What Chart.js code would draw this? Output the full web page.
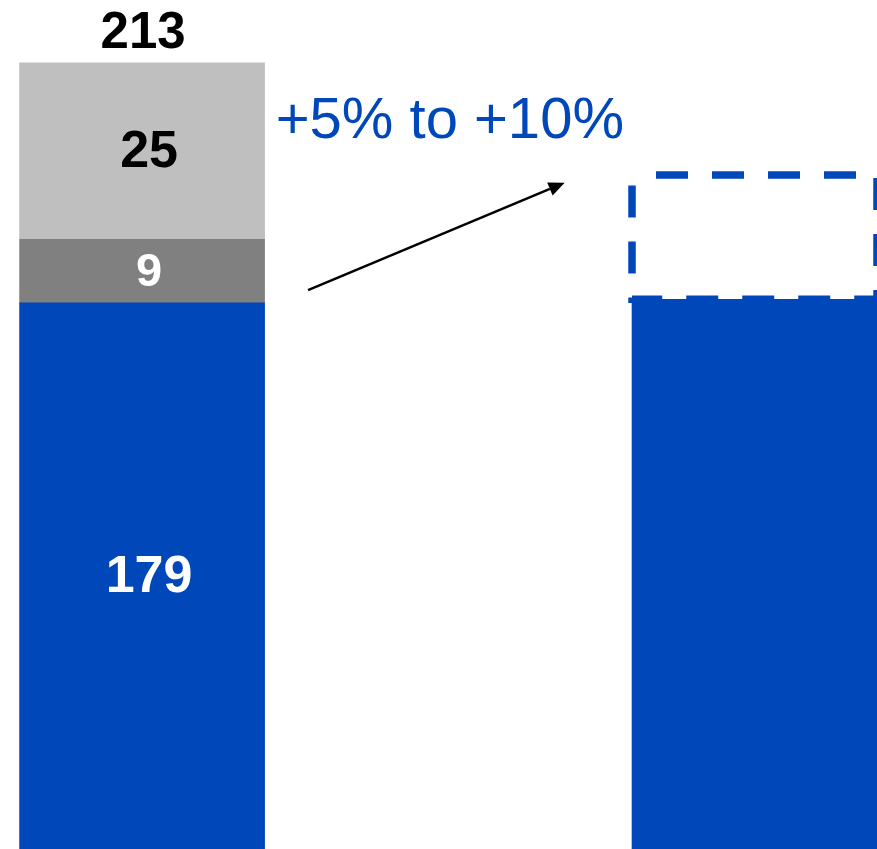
<!DOCTYPE HTML><html>
<head>
  <meta charset="utf-8">
  <script src="https://cdn.jsdelivr.net/npm/chart.js"></script>
  <title>Bridge chart</title>
  <style>
    html, body { margin: 0; padding: 0; background: #fff; }
    #wrap { width: 877px; height: 849px; }
  </style>
</head>
<body>
  <div id="wrap"><canvas id="bridgeChart" width="877" height="849"></canvas></div>

<script>
// bar positions on the x scale (0 = current, 1 = outlook)
var barPos = [0, 1];
// stacked segments of the left bar
var baseValues = [179, 179.5];
var midValues = [9, null];
var topValues = [25, null];
// dashed range on the right bar (from base top up to the upper bound)
var rangeValues = [null, 17.6];
var totalLabel = '213';
var segLabels = ['179', '9', '25'];
var growthText = '+5% to +10%';
// arrow from / to, in chart units
var arrowFrom = { x: 0.271, y: 180.8 };
var arrowTo = { x: 0.690, y: 196.0 };
var textAt = { x: 0.5025, y: 202.35 };

var BLUE = '#0047BA';

function pts(vals) {
  return barPos.map(function (p, i) { return { x: p, y: vals[i] }; });
}

// labels, dashed box, arrow and text
var drawExtras = {
  id: 'drawExtras',
  afterDatasetsDraw: function (chart) {
    var ctx = chart.ctx;
    var xs = chart.scales.x, ys = chart.scales.y;
    var bottom = chart.chartArea.bottom;

    // dashed outline over the range bar
    var rb = chart.getDatasetMeta(3).data[1].getProps(['x', 'y', 'base', 'width'], true);
    ctx.save();
    ctx.strokeStyle = BLUE;
    ctx.lineWidth = 7.5;
    ctx.setLineDash([32, 24]);
    ctx.lineDashOffset = 32;
    ctx.beginPath();
    ctx.rect(rb.x - rb.width / 2, rb.y, rb.width, rb.base - rb.y);
    ctx.stroke();
    ctx.restore();

    // segment labels (base clipped to the visible area)
    ctx.save();
    ctx.textAlign = 'center';
    ctx.textBaseline = 'middle';
    var segs = [
      { ds: 0, txt: segLabels[0], col: '#ffffff', size: 52 },
      { ds: 1, txt: segLabels[1], col: '#ffffff', size: 47 },
      { ds: 2, txt: segLabels[2], col: '#000000', size: 52 }
    ];
    segs.forEach(function (s) {
      var el = chart.getDatasetMeta(s.ds).data[0].getProps(['x', 'y', 'base'], true);
      var b = Math.min(el.base, bottom);
      ctx.fillStyle = s.col;
      ctx.font = 'bold ' + s.size + 'px "Liberation Sans", Arial, sans-serif';
      ctx.fillText(s.txt, el.x + 7, (el.y + b) / 2 + 2);
    });

    // total on top
    var topEl = chart.getDatasetMeta(2).data[0].getProps(['x', 'y'], true);
    ctx.textBaseline = 'alphabetic';
    ctx.fillStyle = '#000000';
    ctx.font = 'bold 51px "Liberation Sans", Arial, sans-serif';
    ctx.fillText(totalLabel, topEl.x + 1, topEl.y - 14.5);

    // growth text
    ctx.fillStyle = BLUE;
    ctx.font = '58px "Liberation Sans", Arial, sans-serif';
    ctx.fillText(growthText, xs.getPixelForValue(textAt.x), ys.getPixelForValue(textAt.y));

    // arrow
    var x1 = xs.getPixelForValue(arrowFrom.x), y1 = ys.getPixelForValue(arrowFrom.y);
    var x2 = xs.getPixelForValue(arrowTo.x), y2 = ys.getPixelForValue(arrowTo.y);
    var ang = Math.atan2(y2 - y1, x2 - x1);
    var hl = 16, hw = 7;
    ctx.strokeStyle = '#000000';
    ctx.fillStyle = '#000000';
    ctx.lineWidth = 2.5;
    ctx.beginPath();
    ctx.moveTo(x1, y1);
    ctx.lineTo(x2 - hl * Math.cos(ang), y2 - hl * Math.sin(ang));
    ctx.stroke();
    ctx.beginPath();
    ctx.moveTo(x2, y2);
    ctx.lineTo(x2 - hl * Math.cos(ang) + hw * Math.sin(ang), y2 - hl * Math.sin(ang) - hw * Math.cos(ang));
    ctx.lineTo(x2 - hl * Math.cos(ang) - hw * Math.sin(ang), y2 - hl * Math.sin(ang) + hw * Math.cos(ang));
    ctx.closePath();
    ctx.fill();
    ctx.restore();
  }
};

var ctx = document.getElementById('bridgeChart').getContext('2d');
var bridgeChart = new Chart(ctx, {
  type: 'bar',
  data: {
    datasets: [
      { label: 'base', data: pts(baseValues), backgroundColor: BLUE },
      { label: 'mid', data: pts(midValues), backgroundColor: '#808080' },
      { label: 'top', data: pts(topValues), backgroundColor: '#BFBFBF' },
      { label: 'range', data: pts(rangeValues), backgroundColor: 'rgba(255,255,255,0)' }
    ]
  },
  options: {
    responsive: false,
    animation: false,
    devicePixelRatio: 1,
    layout: { padding: 0 },
    datasets: { bar: { barThickness: 245, borderWidth: 0 } },
    plugins: {
      legend: { display: false },
      tooltip: { enabled: false }
    },
    scales: {
      x: { type: 'linear', display: false, stacked: true, offset: false, min: -0.232, max: 1.2 },
      y: { display: false, stacked: true, min: 101.6, max: 221.9 }
    }
  },
  plugins: [drawExtras]
});
</script>
</body>
</html>
